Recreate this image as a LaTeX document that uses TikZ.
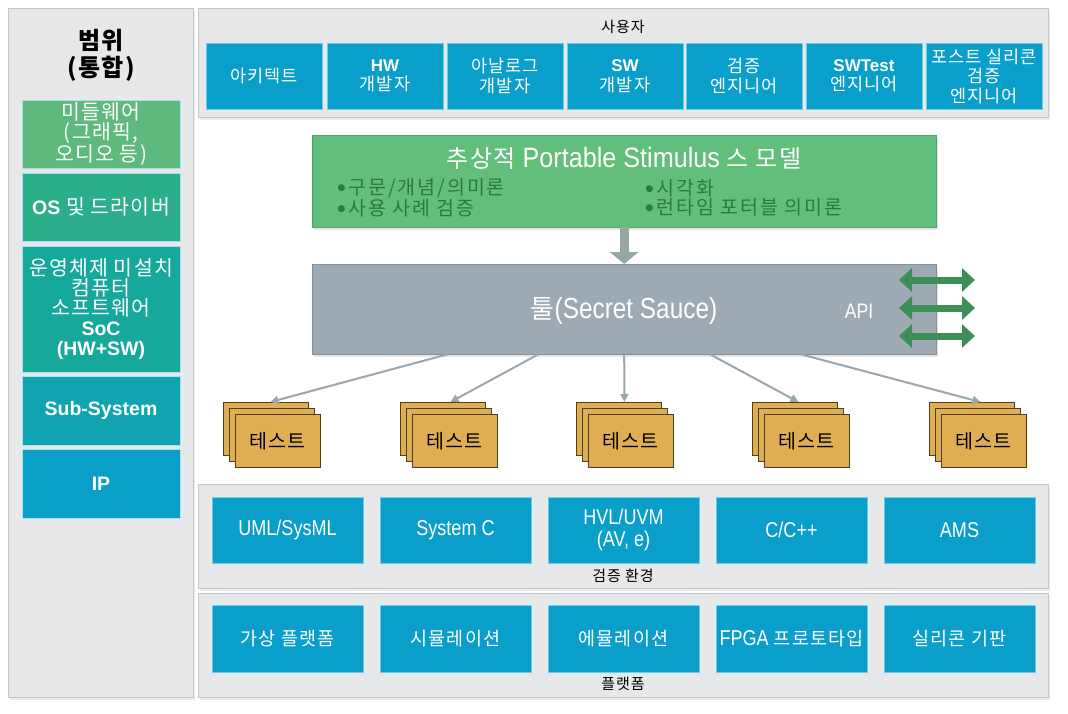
\documentclass[tikz,border=0pt]{standalone}
\usepackage{fontspec}
\setmainfont[LetterSpace=6]{Noto Sans CJK KR}
\newfontfamily\lat{Liberation Sans}
\newfontfamily\latn[FakeStretch=0.84]{Liberation Sans}
\newfontfamily\latm[FakeStretch=0.9]{Liberation Sans}
\newfontfamily\krw[LetterSpace=10]{Noto Sans CJK KR}
\newfontfamily\dotf{DejaVu Sans}
\newcommand{\bdot}{\raisebox{4pt}{\dotf\fontsize{9}{9}\selectfont ●}\hspace{3pt}}
\usetikzlibrary{arrows.meta,shadows,calc}
\definecolor{panel}{HTML}{E7E8EA}
\definecolor{panelb}{HTML}{C5C8CB}
\definecolor{blu}{HTML}{0A9ECB}
\definecolor{blub}{HTML}{6ECDE8}
\definecolor{gA}{HTML}{5DBA7C}
\definecolor{gB}{HTML}{2DAE8B}
\definecolor{gC}{HTML}{17A89C}
\definecolor{gD}{HTML}{10A4B0}
\definecolor{gE}{HTML}{0A9FC7}
\definecolor{psgreen}{HTML}{62BF7B}
\definecolor{pstext}{HTML}{2C7A3E}
\definecolor{toolc}{HTML}{9DAAB4}
\definecolor{testf}{HTML}{E0AE52}
\definecolor{testb}{HTML}{4E3F1E}
\definecolor{apig}{HTML}{3D8F57}
\definecolor{arrg}{HTML}{9AA7AF}
\definecolor{downarr}{HTML}{95A7A2}
\begin{document}
\begin{tikzpicture}[x=1pt,y=-1pt,
  panelst/.style={draw=panelb, fill=panel, line width=0.8pt, drop shadow={shadow xshift=1.5pt,shadow yshift=-2.5pt,opacity=0.15}},
  bluebox/.style={draw=blub, fill=blu, line width=0.8pt, text=white, inner sep=0pt, align=center},
  userbox/.style={bluebox, minimum width=116pt, minimum height=66pt, font=\fontsize{17.5}{19.5}\selectfont},
  envbox/.style={bluebox, minimum width=151pt, minimum height=66pt, font=\latn\fontsize{21.5}{22}\selectfont},
  platbox/.style={bluebox, minimum width=151pt, minimum height=67pt, font=\fontsize{18.5}{20}\selectfont},
  leftbox/.style={draw=blub!60!white, line width=0.8pt, text=white, inner sep=0pt, align=center, minimum width=158pt, font=\fontsize{20.5}{20}\selectfont},
  paneltitle/.style={font=\fontsize{15}{16}\selectfont, text=black},
  teststack/.style={draw=testb, fill=testf, line width=0.9pt, minimum width=85pt, minimum height=53pt, inner sep=0pt, anchor=north west, font=\fontsize{19.5}{20}\selectfont},
  toolarrow/.style={draw=arrg, line width=2pt, -{Triangle[length=8pt,width=8pt]}},
  apiarrow/.style={draw=apig, line width=7pt, {Triangle[length=13pt,width=23pt]}-{Triangle[length=13pt,width=23pt]}}
]
\useasboundingbox (0,0) rectangle (1068,714);
\fill[white] (0,0) rectangle (1068,714);

% panels
\node[panelst, anchor=north west, minimum width=185pt, minimum height=689pt, inner sep=0pt] (scope) at (8,8) {};
\node[panelst, anchor=north west, minimum width=850pt, minimum height=109pt, inner sep=0pt] (users) at (198,8) {};
\node[panelst, anchor=north west, minimum width=850pt, minimum height=104pt, inner sep=0pt] (env) at (198,484) {};
\node[panelst, anchor=north west, minimum width=850pt, minimum height=104pt, inner sep=0pt] (plat) at (198,593) {};

% left column
\node[font=\bfseries\fontsize{24}{27}\selectfont, align=center] (scopet) at (101,55) {범위\\(통합)};
\node[leftbox, fill=gA, minimum height=68pt] (mid) at (101,134) {미들웨어\\(그래픽,\\오디오 등)};
\node[leftbox, fill=gB, minimum height=68pt] (os) at (101,207) {{\lat\bfseries\fontsize{19.5}{20}\selectfont OS} 및 드라이버};
\node[leftbox, fill=gC, minimum height=126pt] (bare) at (101,309) {운영체제 미설치\\컴퓨터\\소프트웨어\\{\lat\bfseries\fontsize{19.5}{20}\selectfont SoC}\\{\lat\bfseries\fontsize{19.5}{20}\selectfont (HW+SW)}};
\node[leftbox, fill=gD, minimum height=69pt, font=\lat\bfseries\fontsize{19.5}{20}\selectfont] (sub) at (101,410.5) {Sub-System};
\node[leftbox, fill=gE, minimum height=69pt, font=\lat\bfseries\fontsize{19.5}{20}\selectfont] (ip) at (101,483.5) {IP};

% users
\node[paneltitle] (userst) at (623,27) {사용자};
\node[userbox] (u1) at (264,76) {아키텍트};
\node[userbox] (u2) at (385,76) {{\lat\bfseries\fontsize{17}{19.5}\selectfont HW}\\개발자};
\node[userbox] (u3) at (505,76) {아날로그\\개발자};
\node[userbox] (u4) at (625,76) {{\lat\bfseries\fontsize{17}{19.5}\selectfont SW}\\개발자};
\node[userbox] (u5) at (744,76) {검증\\엔지니어};
\node[userbox] (u6) at (864,76) {{\lat\bfseries\fontsize{17}{19.5}\selectfont SWTest}\\엔지니어};
\node[userbox] (u7) at (984,76) {포스트 실리콘\\검증\\엔지니어};

% portable stimulus model
\node[fill=psgreen, draw=psgreen!85!black, line width=0.4pt, anchor=north west, minimum width=624pt, minimum height=92pt, inner sep=0pt, drop shadow={shadow xshift=1.5pt,shadow yshift=-3pt,opacity=0.2}] (ps) at (312,135) {};
\node[text=white, font=\fontsize{24}{26}\selectfont] (pst) at (624,158) {추상적 {\latm\fontsize{28}{26}\selectfont Portable Stimulus} 스 모델};
\node[text=pstext, anchor=west, align=left, font=\krw\fontsize{19.5}{19.5}\selectfont] (psl) at (334,197.5) {\bdot 구문/개념/의미론\\\bdot 사용 사례 검증};
\node[text=pstext, anchor=west, align=left, font=\krw\fontsize{19.5}{19.5}\selectfont] (psr) at (642,197.5) {\bdot 시각화\\\bdot 런타임 포터블 의미론};

% tool
\node[fill=toolc, draw=toolc!85!black, line width=0.4pt, anchor=north west, minimum width=624pt, minimum height=90pt, inner sep=0pt, drop shadow={shadow xshift=1.5pt,shadow yshift=-3pt,opacity=0.2}] (tool) at (312,264) {};
\node[text=white, font=\fontsize{26}{28}\selectfont] (toolt) at (624,311) {툴{\latn\fontsize{29}{28}\selectfont (Secret Sauce)}};
\node[text=white, font=\latn\fontsize{21}{22}\selectfont] (api) at (859,311) {API};

\draw[draw=downarr, line width=9pt, -{Triangle[length=12pt,width=28pt]}] (ps.south) -- (tool.north);

% API arrows
\coordinate (a1l) at (899,280); \coordinate (a1r) at (975,280);
\coordinate (a2l) at (899,308); \coordinate (a2r) at (975,308);
\coordinate (a3l) at (899,336); \coordinate (a3r) at (975,336);
\draw[apiarrow] (a1l) -- (a1r);
\draw[apiarrow] (a2l) -- (a2r);
\draw[apiarrow] (a3l) -- (a3r);

% test stacks
\foreach \i/\cx in {1/271,2/448,3/624,4/800,5/977}{
  \node[teststack] (t\i a) at (\cx-48.5,402) {};
  \node[teststack] (t\i b) at (\cx-42.5,408) {};
  \node[teststack] (t\i c) at (\cx-36.5,414) {테스트};
}
\draw[toolarrow] ($(tool.south)+(-177,0)$) -- ($(t1a.north)+(5,0)$);
\draw[toolarrow] ($(tool.south)+(-86,0)$) -- ($(t2a.north)+(8,0)$);
\draw[toolarrow] (tool.south) -- ($(t3a.north)+(6,0)$);
\draw[toolarrow] ($(tool.south)+(86,0)$) -- ($(t4a.north)+(4,0)$);
\draw[toolarrow] ($(tool.south)+(177,0)$) -- ($(t5a.north)+(9,0)$);

% verification environment
\node[envbox] (e1) at (287.5,530) {UML/SysML};
\node[envbox] (e2) at (455.5,530) {System C};
\node[envbox] (e3) at (623.5,530) {HVL/UVM\\(AV, e)};
\node[envbox] (e4) at (791.5,530) {C/C++};
\node[envbox] (e5) at (959.5,530) {AMS};
\node[paneltitle] (envt) at (623,576) {검증 환경};

% platform
\node[platbox] (p1) at (287.5,638.5) {가상 플랫폼};
\node[platbox] (p2) at (455.5,638.5) {시뮬레이션};
\node[platbox] (p3) at (623.5,638.5) {에뮬레이션};
\node[platbox] (p4) at (791.5,638.5) {{\latn\fontsize{21.5}{20}\selectfont FPGA} 프로토타입};
\node[platbox] (p5) at (959.5,638.5) {실리콘 기판};
\node[paneltitle] (platt) at (623,684) {플랫폼};
\end{tikzpicture}
\end{document}
